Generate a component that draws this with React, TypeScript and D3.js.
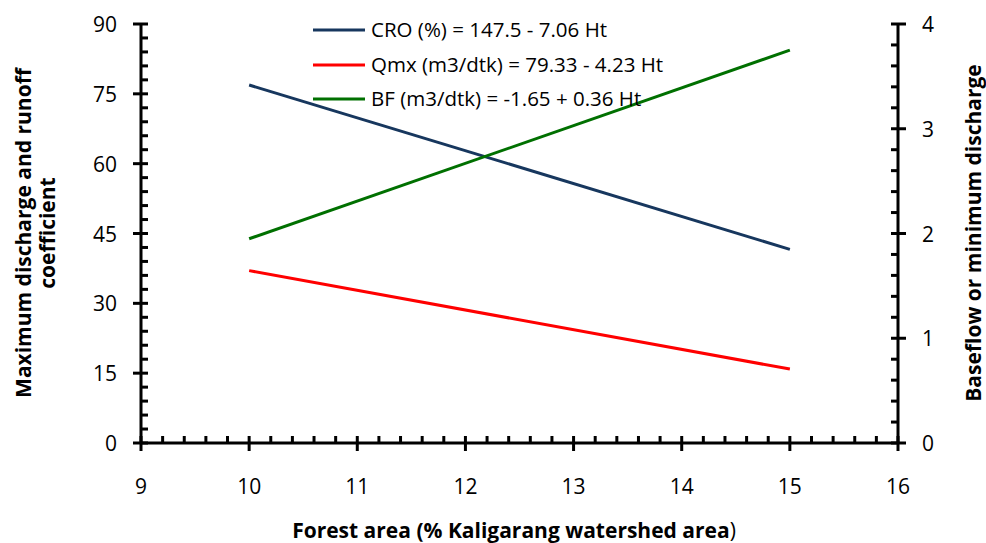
import React, { useEffect, useRef } from 'react';
import * as d3 from 'd3';

const forestArea = [10, 15];
const croValues = [76.9, 41.6];
const qmxValues = [37.03, 15.88];
const bfValues = [1.95, 3.75];
const legendLabels = [
  'CRO (%) = 147.5 - 7.06 Ht',
  'Qmx (m3/dtk) = 79.33 - 4.23 Ht',
  'BF (m3/dtk) = -1.65 + 0.36 Ht',
];
const leftTicks = [0, 15, 30, 45, 60, 75, 90];
const rightTicks = [0, 1, 2, 3, 4];
const xTicks = [9, 10, 11, 12, 13, 14, 15, 16];

const font = '"Open Sans", Lato, sans-serif';

export default function App() {
  const ref = useRef<SVGSVGElement>(null);

  useEffect(() => {
    const svg = d3.select(ref.current);
    svg.selectAll('*').remove();

    const left = 141, right = 898, top = 24, bottom = 443;
    const x = d3.scaleLinear().domain([9, 16]).range([left, right]);
    const yL = d3.scaleLinear().domain([0, 90]).range([bottom, top]);
    const yR = d3.scaleLinear().domain([0, 4]).range([bottom, top]);

    const g = svg.append('g');

    // series lines
    const series = [
      { vals: croValues, scale: yL, color: '#17375e' },
      { vals: qmxValues, scale: yL, color: '#ff0000' },
      { vals: bfValues, scale: yR, color: '#007000' },
    ];
    series.forEach((s) => {
      const line = d3.line<number>()
        .x((_, i) => x(forestArea[i]))
        .y((d) => s.scale(d));
      g.append('path')
        .attr('d', line(s.vals))
        .attr('fill', 'none')
        .attr('stroke', s.color)
        .attr('stroke-width', 3);
    });

    const axis = g.append('g').attr('stroke', '#000').attr('stroke-width', 3);

    // left axis
    axis.append('line').attr('x1', left).attr('x2', left).attr('y1', top).attr('y2', bottom);
    d3.range(0, 91, 3).forEach((v) => {
      const major = v % 15 === 0;
      axis.append('line')
        .attr('x1', major ? left - 8 : left).attr('x2', left + 7)
        .attr('y1', yL(v)).attr('y2', yL(v));
    });
    g.selectAll('.ltick').data(leftTicks).enter().append('text')
      .attr('x', left - 24).attr('y', (d) => yL(d) + 8)
      .attr('text-anchor', 'end').style('font-family', font).style('font-size', '21px')
      .text((d) => d);

    // right axis
    axis.append('line').attr('x1', right).attr('x2', right).attr('y1', top).attr('y2', bottom);
    d3.range(0, 21).forEach((i) => {
      const v = i * 0.2;
      const major = i % 5 === 0;
      axis.append('line')
        .attr('x1', right - 7).attr('x2', major ? right + 8 : right)
        .attr('y1', yR(v)).attr('y2', yR(v));
    });
    g.selectAll('.rtick').data(rightTicks).enter().append('text')
      .attr('x', right + 24).attr('y', (d) => yR(d) + 8)
      .style('font-family', font).style('font-size', '21px')
      .text((d) => d);

    // x axis
    axis.append('line').attr('x1', left).attr('x2', right).attr('y1', bottom).attr('y2', bottom);
    d3.range(0, 36).forEach((i) => {
      const v = 9 + i * 0.2;
      const major = i % 5 === 0;
      axis.append('line')
        .attr('x1', x(v)).attr('x2', x(v))
        .attr('y1', bottom - 7).attr('y2', major ? bottom + 8 : bottom);
    });
    g.selectAll('.xtick').data(xTicks).enter().append('text')
      .attr('x', (d) => x(d)).attr('y', 494)
      .attr('text-anchor', 'middle').style('font-family', font).style('font-size', '21px')
      .text((d) => d);

    // axis titles
    const titleStyle = (t: d3.Selection<SVGTextElement, unknown, null, undefined>, size: number) =>
      t.style('font-family', font).style('font-size', `${size}px`).style('font-weight', 'bold')
        .attr('text-anchor', 'middle');

    const lt = g.append('text').attr('transform', 'translate(31,233) rotate(-90)');
    titleStyle(lt, 21);
    lt.append('tspan').attr('x', 0).attr('dy', 0).text('Maximum discharge and runoff');
    lt.append('tspan').attr('x', 0).attr('dy', 24).text('coefficient');

    const rt = g.append('text').attr('transform', 'translate(981,233) rotate(-90)')
      .text('Baseflow or minimum discharge');
    titleStyle(rt, 21);

    const bt = g.append('text').attr('x', 514).attr('y', 538);
    titleStyle(bt, 21);
    bt.append('tspan').text('Forest area (% Kaligarang watershed area');
    bt.append('tspan').style('font-weight', 'normal').text(')');

    // legend
    const legendY = [30, 65, 99];
    series.forEach((s, i) => {
      g.append('line')
        .attr('x1', 313).attr('x2', 365)
        .attr('y1', legendY[i]).attr('y2', legendY[i])
        .attr('stroke', s.color).attr('stroke-width', 3);
      g.append('text')
        .attr('x', 371).attr('y', legendY[i] + 7)
        .style('font-family', font).style('font-size', '20.5px')
        .text(legendLabels[i]);
    });
  }, []);

  return (
    <svg ref={ref} width={986} height={543}
      style={{ position: 'absolute', left: 0, top: 0, background: '#fff' }} />
  );
}
